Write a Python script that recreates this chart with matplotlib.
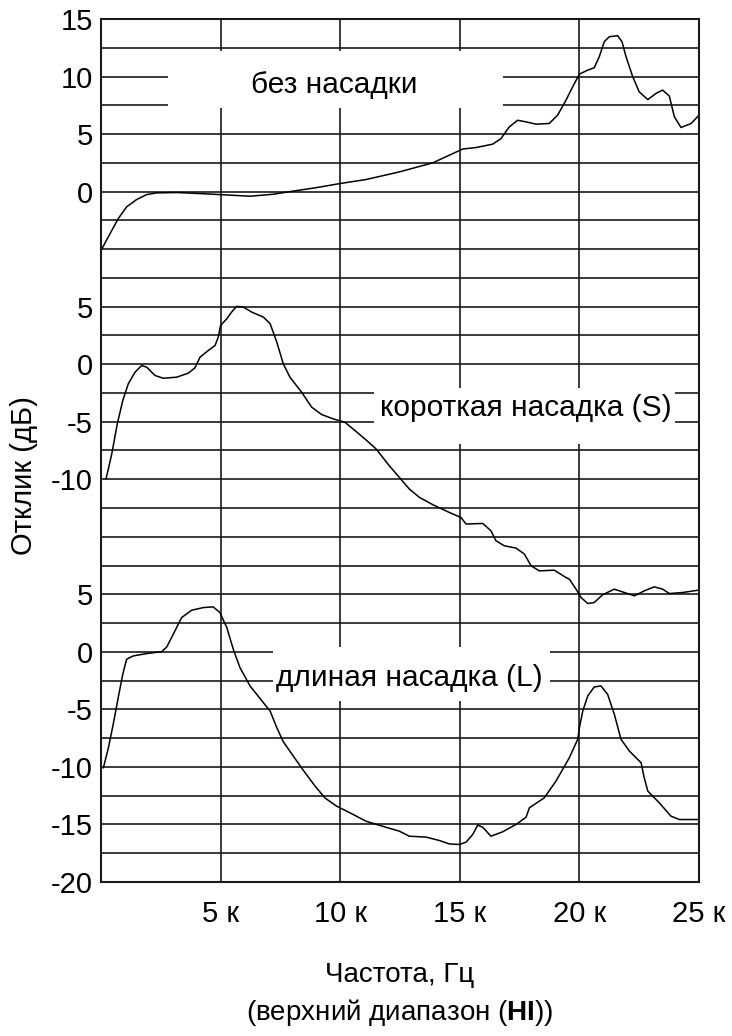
import matplotlib
matplotlib.use("Agg")
import matplotlib.pyplot as plt
from matplotlib.patches import Rectangle

plt.rcParams['font.family'] = ['Liberation Sans', 'DejaVu Sans']
plt.rcParams['mathtext.fontset'] = 'custom'
plt.rcParams['mathtext.rm'] = 'Liberation Sans'
plt.rcParams['mathtext.bf'] = 'Liberation Sans:bold'

# ---- data (frequency in kHz, response in dB, local to each panel) ----
freq_none = [0.03, 0.38, 0.72, 1.07, 1.49, 1.91, 2.33, 3.16, 4.14, 4.97, 6.23, 7.2,
             7.9, 9.02, 9.99, 11.08, 12.47, 13.87, 14.56, 15.12, 15.68, 16.37, 16.72,
             17.07, 17.42, 17.77, 18.19, 18.74, 19.09, 19.44, 19.72, 20.0, 20.35,
             20.62, 20.83, 21.04, 21.25, 21.6, 21.78, 21.95, 22.23, 22.5, 22.86,
             23.2, 23.48, 23.76, 23.97, 24.25, 24.67, 25.0]
resp_none = [-5.0, -3.65, -2.35, -1.33, -0.69, -0.26, -0.11, -0.08, -0.17, -0.26, -0.4, -0.23,
             0.0, 0.35, 0.7, 1.05, 1.71, 2.5, 3.16, 3.7, 3.83, 4.12, 4.6,
             5.63, 6.2, 6.06, 5.86, 5.92, 6.65, 7.95, 9.11, 10.21, 10.56,
             10.76, 11.72, 13.03, 13.46, 13.55, 13.03, 11.72, 9.98, 8.67, 8.0,
             8.53, 8.82, 8.3, 6.5, 5.57, 5.92, 6.64]

freq_short = [0.21, 0.45, 0.68, 0.91, 1.14, 1.42, 1.7, 1.91, 2.26, 2.6, 3.16, 3.65,
              3.93, 4.14, 4.49, 4.77, 4.9, 5.0, 5.26, 5.46, 5.67, 5.95, 6.3, 6.79,
              7.07, 7.35, 7.62, 7.9, 8.39, 8.81, 9.23, 9.71, 10.2, 10.62, 11.08,
              11.5, 12.05, 12.47, 12.89, 13.31, 13.87, 14.56, 15.05, 15.26, 15.96,
              16.3, 16.51, 16.86, 17.35, 17.7, 17.98, 18.32, 18.95, 19.44, 19.58,
              19.86, 20.07, 20.35, 20.62, 20.97, 21.46, 21.88, 22.3, 22.71, 23.13,
              23.48, 23.76, 24.32, 25.0]
resp_short = [-9.97, -7.8, -5.19, -3.16, -1.71, -0.7, -0.11, -0.26, -0.98, -1.22, -1.13, -0.78,
              -0.31, 0.61, 1.2, 1.63, 2.35, 3.37, 3.95, 4.53, 5.03, 4.96, 4.53, 4.09,
              3.52, 1.92, 0.03, -1.13, -2.44, -3.74, -4.38, -4.75, -5.05, -5.77, -6.58,
              -7.36, -8.82, -9.83, -10.85, -11.57, -12.21, -12.88, -13.32, -13.89, -13.84,
              -14.47, -15.34, -15.78, -15.98, -16.5, -17.52, -17.96, -17.9, -18.54, -18.68,
              -19.55, -20.28, -20.8, -20.71, -20.04, -19.55, -19.84, -20.13, -19.7, -19.35,
              -19.55, -19.93, -19.84, -19.63]

freq_long = [0.1, 0.31, 0.51, 0.72, 0.91, 1.07, 1.35, 1.91, 2.54, 2.75, 3.02, 3.37,
             3.79, 4.28, 4.69, 4.97, 5.26, 5.53, 5.81, 6.23, 6.79, 7.07, 7.35, 7.62,
             8.04, 8.46, 8.95, 9.36, 9.85, 10.41, 11.08, 11.91, 12.47, 12.89, 13.59,
             14.14, 14.56, 14.98, 15.26, 15.54, 15.75, 15.96, 16.3, 16.79, 17.35,
             17.77, 17.91, 18.53, 19.02, 19.58, 19.93, 20.0, 20.14, 20.35, 20.62,
             20.9, 21.18, 21.46, 21.74, 22.09, 22.58, 22.71, 22.86, 23.34, 23.83,
             24.18, 25.0]
resp_long = [-10.07, -8.33, -6.3, -3.98, -1.95, -0.64, -0.35, -0.15, 0.02, 0.43, 1.53, 2.98,
             3.62, 3.85, 3.91, 3.42, 2.11, 0.23, -1.37, -2.96, -4.42, -5.14, -6.59, -7.81,
             -9.06, -10.3, -11.67, -12.69, -13.41, -13.99, -14.72, -15.24, -15.58, -16.02, -16.1,
             -16.39, -16.69, -16.74, -16.54, -15.87, -15.06, -15.24, -16.02, -15.64, -15.0,
             -14.37, -13.55, -12.69, -11.23, -9.2, -7.6, -6.59, -5.14, -3.83, -3.05,
             -2.96, -3.69, -5.43, -7.6, -8.62, -9.64, -10.94, -12.1, -13.12, -14.28,
             -14.57, -14.57]

panel_offsets = [0, -15, -40]          # where each panel's 0 dB sits on the shared axis
panel_ticks = [[15, 10, 5, 0], [5, 0, -5, -10], [5, 0, -5, -10, -15, -20]]
panel_names = ["без насадки", "короткая насадка (S)", "длиная насадка (L)"]
x_ticks = [5, 10, 15, 20, 25]
x_tick_labels = ["5 к", "10 к", "15 к", "20 к", "25 к"]

# ---- figure ----
fig = plt.figure(figsize=(7.32, 10.36), dpi=100)
ax = fig.add_axes([101 / 732, 1 - 882 / 1036, 598 / 732, 863 / 1036])
ax.set_xlim(0, 25)
ax.set_ylim(-60, 15)

grid_color = '#1a1a1a'
yv = -60.0
while yv <= 15.0 + 1e-9:
    ax.axhline(yv, color=grid_color, lw=1.2, zorder=1)
    yv += 2.5
for xv in x_ticks[:-1]:
    ax.axvline(xv, color=grid_color, lw=1.2, zorder=1)

for sp in ax.spines.values():
    sp.set_linewidth(1.5)
    sp.set_color(grid_color)
    sp.set_zorder(6)

yt, ytl = [], []
for off, ticks in zip(panel_offsets, panel_ticks):
    for t in ticks:
        yt.append(t + off)
        ytl.append(str(t))
ax.set_yticks(yt)
ax.set_yticklabels(ytl, fontsize=21)
ax.set_xticks(x_ticks)
ax.set_xticklabels(x_tick_labels, fontsize=21)
ax.tick_params(axis='y', length=0, pad=6)
ax.tick_params(axis='x', length=0, pad=13)

for fr, rs, off in zip([freq_none, freq_short, freq_long],
                       [resp_none, resp_short, resp_long], panel_offsets):
    ax.plot(fr, [r + off for r in rs], color='black', lw=1.1, zorder=5,
            solid_joinstyle='round')

boxes = [(2.80, 7.3, 14.0, 4.9), (11.41, -21.9, 12.6, 4.8), (7.19, -44.3, 11.6, 4.7)]
for (bx, by, bw, bh) in boxes:
    ax.add_patch(Rectangle((bx, by), bw, bh, facecolor='white', edgecolor='none', zorder=3))
text_pos = [(9.74, 9.3), (17.77, -18.8), (12.9, -42.3)]
for name, (tx, ty) in zip(panel_names, text_pos):
    ax.text(tx, ty, name, fontsize=21.5, ha='center', va='center', zorder=4)

fig.text(24 / 732, 1 - 476 / 1036, "Отклик (дБ)", fontsize=21, rotation=90,
         ha='center', va='center')
fig.text(400 / 732, 1 - 975 / 1036, "Частота, Гц", fontsize=20, ha='center', va='center')
fig.text(400 / 732, 1 - 1012 / 1036, r"(верхний диапазон ($\mathbf{HI}$))",
         fontsize=20, ha='center', va='center')

fig.savefig("out.png", dpi=100, facecolor='white')
